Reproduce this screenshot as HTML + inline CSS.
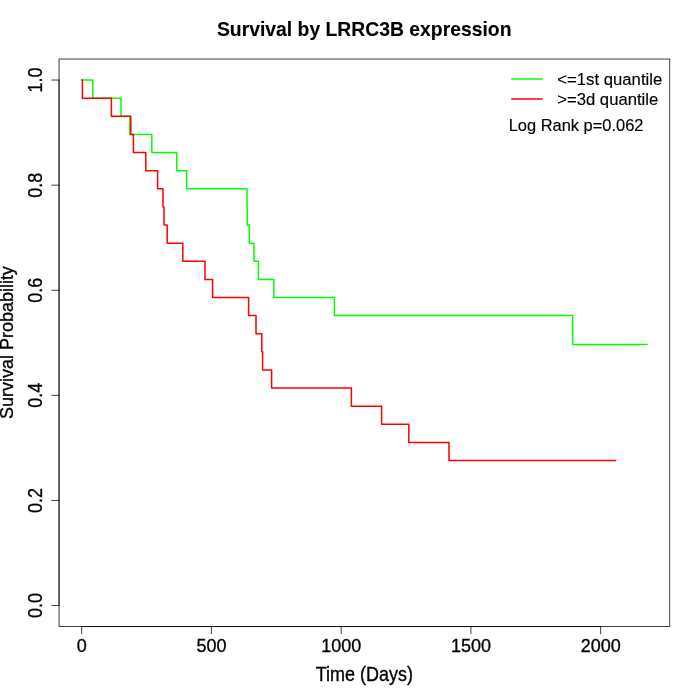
<!DOCTYPE html>
<html lang="en">
<head>
<meta charset="utf-8">
<title>Survival by LRRC3B expression</title>
<style>
html,body{margin:0;padding:0;background:#fff;}
body{width:700px;height:700px;overflow:hidden;}
svg{display:block;}
</style>
</head>
<body>
<svg width="700" height="700" viewBox="0 0 700 700">
<rect width="700" height="700" fill="#fff"/>
<path d="M81.66,80.06H92.80V98.18H121.00V116.30H129.80V134.42H151.80V152.54H176.80V170.66H186.60V188.78H247.00V206.90H247.25V225.02H249.30V243.14H254.00V261.26H258.40V279.38H273.80V297.50H334.40V315.62H572.60V344.59H647.14" fill="none" stroke="#00ff00" stroke-width="1.5" stroke-linecap="round" stroke-linejoin="round"/>
<path d="M81.66,80.06H82.40V98.18H111.40V116.30H130.80V134.42H133.40V152.54H145.80V170.66H157.60V188.78H163.00V206.90H164.00V225.02H167.20V243.14H182.80V261.26H205.00V279.38H212.60V297.50H248.60V315.62H256.00V333.74H261.80V351.86H262.60V369.98H271.60V388.10H351.40V406.22H381.60V424.34H408.80V442.46H449.00V460.58H615.70" fill="none" stroke="#ff0000" stroke-width="1.5" stroke-linecap="round" stroke-linejoin="round"/>
<g stroke="#000" stroke-width="0.75" fill="none" stroke-linecap="round">
<rect x="59.04" y="59.04" width="610.72" height="567.52"/>
<path d="M81.66,626.56H600.66"/>
<path d="M81.66,626.56v7.2"/>
<path d="M211.41,626.56v7.2"/>
<path d="M341.16,626.56v7.2"/>
<path d="M470.91,626.56v7.2"/>
<path d="M600.66,626.56v7.2"/>
<path d="M59.04,605.54V80.06"/>
<path d="M59.04,605.54h-7.2"/>
<path d="M59.04,500.44h-7.2"/>
<path d="M59.04,395.35h-7.2"/>
<path d="M59.04,290.25h-7.2"/>
<path d="M59.04,185.16h-7.2"/>
<path d="M59.04,80.06h-7.2"/>
</g>
<g font-family="'Liberation Sans', Arial, Helvetica, sans-serif" fill="#000" stroke="#000" stroke-width="0.3" stroke-linejoin="round">
<text transform="translate(81.66,651.8) scale(1,1.05)" font-size="18" text-anchor="middle">0</text>
<text transform="translate(211.41,651.8) scale(1,1.05)" font-size="18" text-anchor="middle">500</text>
<text transform="translate(341.16,651.8) scale(1,1.05)" font-size="18" text-anchor="middle">1000</text>
<text transform="translate(470.91,651.8) scale(1,1.05)" font-size="18" text-anchor="middle">1500</text>
<text transform="translate(600.66,651.8) scale(1,1.05)" font-size="18" text-anchor="middle">2000</text>
<text transform="translate(42.2,605.54) rotate(-90) scale(1,1.12)" font-size="18" text-anchor="middle">0.0</text>
<text transform="translate(42.2,500.44) rotate(-90) scale(1,1.12)" font-size="18" text-anchor="middle">0.2</text>
<text transform="translate(42.2,395.35) rotate(-90) scale(1,1.12)" font-size="18" text-anchor="middle">0.4</text>
<text transform="translate(42.2,290.25) rotate(-90) scale(1,1.12)" font-size="18" text-anchor="middle">0.6</text>
<text transform="translate(42.2,185.16) rotate(-90) scale(1,1.12)" font-size="18" text-anchor="middle">0.8</text>
<text transform="translate(42.2,80.06) rotate(-90) scale(1,1.12)" font-size="18" text-anchor="middle">1.0</text>
<text transform="translate(364.40,680.6) scale(1,1.08)" font-size="18" text-anchor="middle">Time (Days)</text>
<text transform="translate(12.9,342.60) rotate(-90) scale(1,1.07)" font-size="18" text-anchor="middle">Survival Probability</text>
<text transform="translate(364.20,36.4) scale(1,1.04)" font-size="19.35" font-weight="bold" stroke-width="0.1" text-anchor="middle">Survival by LRRC3B expression</text>
<text transform="translate(557.3,84.8) scale(1,0.96)" font-size="16.72" stroke-width="0.15">&lt;=1st quantile</text>
<text transform="translate(557.3,104.9) scale(1,0.96)" font-size="16.65" stroke-width="0.15">&gt;=3d quantile</text>
<text transform="translate(508.7,130.8) scale(1,0.96)" font-size="16.45" stroke-width="0.15">Log Rank p=0.062</text>
</g>
<path d="M511.8,79H542.2" stroke="#00ff00" stroke-width="1.5" stroke-linecap="round"/>
<path d="M511.8,99.1H542.2" stroke="#ff0000" stroke-width="1.5" stroke-linecap="round"/>
</svg>
</body>
</html>
